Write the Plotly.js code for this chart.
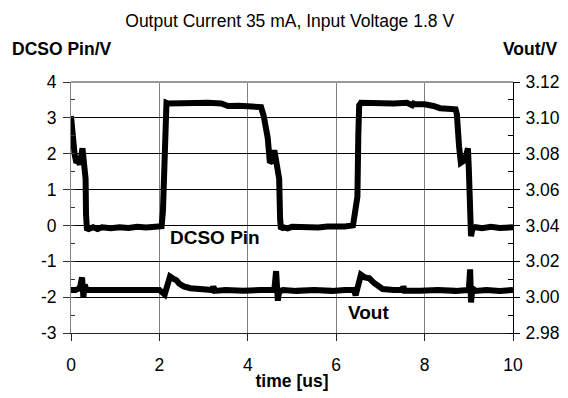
<!DOCTYPE html>
<html>
<head>
<meta charset="utf-8">
<script src="https://cdn.plot.ly/plotly-3.0.1.min.js"></script>
<style>html,body{margin:0;padding:0;background:#fff;}#chart{width:568px;height:398px;}</style>
</head>
<body>
<div id="chart"></div>
<script>
// DCSO pin voltage (left axis), time in us
const dcsoTime = [0, 0.02, 0.05, 0.08, 0.12, 0.16, 0.2, 0.24, 0.26, 0.28, 0.31, 0.33, 0.34, 0.36, 0.4, 0.5, 0.6, 0.7, 0.9, 1.1, 1.3, 1.5, 1.7, 1.9, 2.05, 2.08, 2.11, 2.13, 2.16, 2.2, 2.5, 2.8, 3.1, 3.4, 3.48, 3.55, 3.8, 4.0, 4.2, 4.3, 4.36, 4.4, 4.45, 4.5, 4.55, 4.6, 4.63, 4.67, 4.71, 4.73, 4.75, 4.8, 4.9, 5.0, 5.2, 5.4, 5.6, 5.8, 6.0, 6.2, 6.38, 6.41, 6.44, 6.48, 6.5, 6.52, 6.56, 6.8, 7.0, 7.3, 7.6, 7.72, 7.75, 7.8, 8.0, 8.1, 8.2, 8.35, 8.5, 8.7, 8.73, 8.75, 8.78, 8.82, 8.88, 8.94, 8.98, 9.0, 9.02, 9.05, 9.08, 9.15, 9.3, 9.5, 9.7, 9.9, 10];
const dcsoVolt = [3.05, 2.6, 2.3, 2.0, 1.75, 1.8, 1.7, 2.05, 2.15, 1.9, 1.55, 1.3, 0.3, -0.08, -0.1, -0.05, -0.1, -0.05, -0.08, -0.05, -0.07, -0.04, -0.06, -0.05, -0.02, 0.4, 2.0, 3.35, 3.42, 3.4, 3.42, 3.4, 3.42, 3.4, 3.35, 3.33, 3.34, 3.32, 3.34, 3.3, 3.05, 2.75, 2.45, 1.75, 1.8, 2.1, 1.8, 1.45, 1.3, 0.2, -0.1, -0.05, -0.08, -0.04, -0.06, -0.04, -0.06, -0.03, -0.05, -0.03, 0.0, 0.3, 0.65, 0.8, 2.5, 3.35, 3.42, 3.4, 3.42, 3.4, 3.42, 3.35, 3.4, 3.38, 3.38, 3.37, 3.33, 3.27, 3.25, 3.24, 3.1, 2.5, 2.2, 1.75, 1.8, 1.95, 2.15, 1.6, 0.6, -0.3, -0.1, -0.05, -0.08, -0.04, -0.07, -0.05, -0.05];

// Output voltage (right axis)
const voutTime = [0, 0.1, 0.2, 0.25, 0.28, 0.31, 0.35, 0.5, 0.8, 1.1, 1.4, 1.7, 2.0, 2.12, 2.18, 2.24, 2.3, 2.38, 2.45, 2.55, 2.7, 2.9, 3.2, 3.22, 3.25, 3.5, 3.9, 4.3, 4.6, 4.64, 4.66, 4.68, 4.7, 4.74, 4.8, 5.1, 5.5, 5.9, 6.2, 6.4, 6.44, 6.5, 6.56, 6.65, 6.75, 6.85, 6.95, 7.05, 7.3, 7.5, 7.52, 7.55, 7.9, 8.3, 8.7, 9.0, 9.03, 9.05, 9.07, 9.1, 9.15, 9.4, 9.7, 10];
const voutVolt = [3.004, 3.004, 3.005, 3.011, 3.0, 3.007, 3.004, 3.004, 3.0035, 3.004, 3.0035, 3.004, 3.004, 3.0015, 3.007, 3.0115, 3.0105, 3.0095, 3.0075, 3.006, 3.005, 3.0045, 3.004, 3.006, 3.0035, 3.004, 3.0035, 3.004, 3.004, 3.0145, 3.0, 2.998, 3.002, 3.0035, 3.004, 3.0035, 3.004, 3.0035, 3.004, 3.004, 3.001, 3.006, 3.0125, 3.011, 3.0105, 3.008, 3.006, 3.0045, 3.004, 3.004, 3.006, 3.0035, 3.0035, 3.004, 3.0035, 3.004, 3.0155, 2.997, 3.002, 3.0045, 3.0035, 3.004, 3.0035, 3.004];

const leftTicks = [-3, -2, -1, 0, 1, 2, 3, 4];
const rightTicks = [2.98, 3.00, 3.02, 3.04, 3.06, 3.08, 3.10, 3.12];
const xTicks = [0, 2, 4, 6, 8, 10];

const FONT = "Liberation Sans, Arial, sans-serif";
const FS = 17.5;

const traces = [
  {x: dcsoTime, y: dcsoVolt, type: 'scatter', mode: 'lines', name: 'DCSO Pin',
   line: {color: '#000', width: 6}, yaxis: 'y'},
  {x: voutTime, y: voutVolt, type: 'scatter', mode: 'lines', name: 'Vout',
   line: {color: '#000', width: 6}, yaxis: 'y2'}
];

const layout = {
  width: 568, height: 398,
  margin: {l: 71, r: 55, t: 82, b: 65, pad: 0},
  paper_bgcolor: '#fff', plot_bgcolor: '#fff',
  showlegend: false,
  font: {family: FONT, size: FS, color: '#000'},
  title: {text: 'Output Current 35 mA, Input Voltage 1.8 V', font: {family: FONT, size: FS, color: '#000'},
          x: 0.51, xanchor: 'center', y: 0.948, yanchor: 'middle'},
  xaxis: {
    range: [0, 10], tickvals: xTicks, ticktext: xTicks.map(String),
    showgrid: true, gridcolor: '#808080', gridwidth: 1,
    showline: true, linecolor: '#222', linewidth: 1,
    ticks: 'outside', ticklen: 7, tickcolor: '#222',
    ticklabelstandoff: 9,
    zeroline: false, tickfont: {size: FS},
    title: {text: '<b>time [us]</b>', font: {size: FS}, standoff: 0}
  },
  yaxis: {
    range: [-3, 4], tickvals: leftTicks, ticktext: leftTicks.map(String),
    showgrid: true, gridcolor: '#000', gridwidth: 1,
    showline: true, linecolor: '#808080', linewidth: 1,
    ticks: 'outside', ticklen: 7, tickcolor: '#333',
    ticklabelstandoff: 3,
    minor: {dtick: 0.5, ticks: 'inside', ticklen: 4, tickcolor: '#333', showgrid: false},
    zeroline: false, tickfont: {size: FS}
  },
  yaxis2: {
    range: [2.98, 3.12], tickvals: rightTicks, ticktext: rightTicks.map(v => v.toFixed(2)),
    overlaying: 'y', side: 'right', showgrid: false,
    showline: true, linecolor: '#000', linewidth: 1,
    ticks: 'outside', ticklen: 6, tickcolor: '#000',
    ticklabelstandoff: 2,
    minor: {dtick: 0.01, ticks: 'inside', ticklen: 5, tickcolor: '#000', showgrid: false},
    zeroline: false, tickfont: {size: FS}
  },
  shapes: [
    {type: 'line', xref: 'paper', yref: 'paper', x0: 0, x1: 1, y0: 1, y1: 1,
     line: {color: '#999', width: 2}}
  ],
  annotations: [
    {text: '<b>DCSO Pin/V</b>', xref: 'paper', yref: 'paper', x: -0.137, y: 1.13,
     xanchor: 'left', yanchor: 'middle', showarrow: false, font: {size: FS}},
    {text: '<b>Vout/V</b>', xref: 'paper', yref: 'paper', x: 1.105, y: 1.13,
     xanchor: 'right', yanchor: 'middle', showarrow: false, font: {size: FS}},
    {text: '<b>DCSO Pin</b>', xref: 'x', yref: 'y', x: 3.26, y: -0.33,
     xanchor: 'center', yanchor: 'middle', showarrow: false, font: {size: 19}},
    {text: '<b>Vout</b>', xref: 'x', yref: 'y', x: 6.73, y: -2.42,
     xanchor: 'center', yanchor: 'middle', showarrow: false, font: {size: 19}}
  ]
};

Plotly.newPlot('chart', traces, layout, {displayModeBar: false, staticPlot: true});
</script>
</body>
</html>
